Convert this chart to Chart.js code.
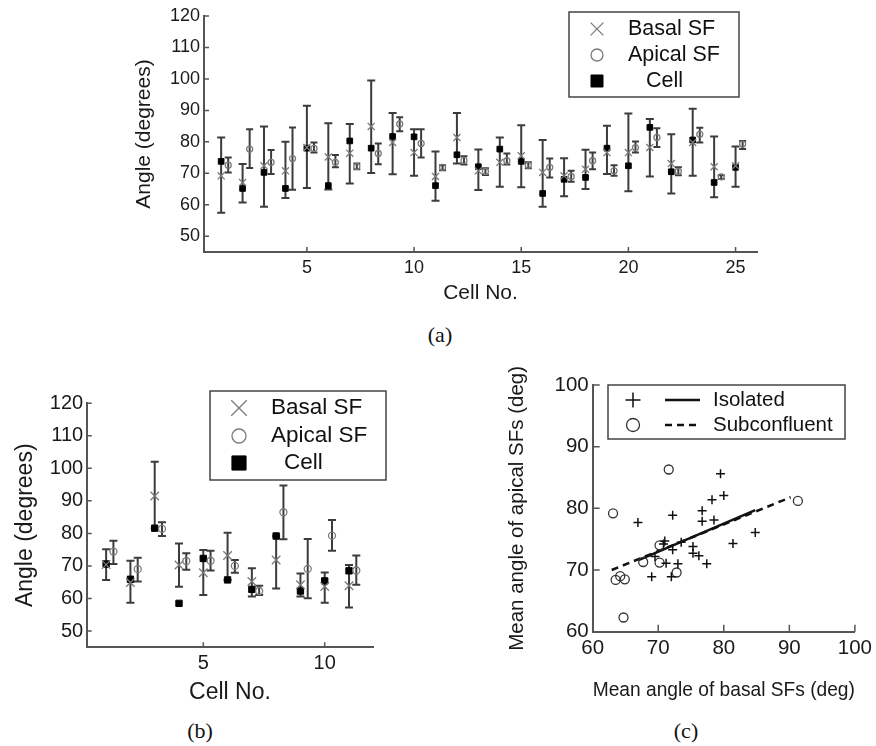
<!DOCTYPE html>
<html>
<head>
<meta charset="utf-8">
<script src="https://cdn.jsdelivr.net/npm/chart.js@4.4.1/dist/chart.umd.min.js"></script>
<style>
  body { margin: 0; background: #fff; }
  #fig { position: relative; width: 876px; height: 746px; overflow: hidden; }
  #fig canvas { position: absolute; }
  .lab { position: absolute; font-family: 'Liberation Serif', 'Times New Roman', serif; font-size: 22px; color: #111; transform: translate(-50%, -50%); }
</style>
</head>
<body>
<div id="fig">
  <canvas id="chartA" width="876" height="310" style="left:0;top:0"></canvas>
  <canvas id="chartB" width="440" height="340" style="left:0;top:370px"></canvas>
  <canvas id="chartC" width="406" height="367" style="left:470px;top:340px"></canvas>
  <div class="lab" style="left:440px;top:335px">(a)</div>
  <div class="lab" style="left:200px;top:731px">(b)</div>
  <div class="lab" style="left:686px;top:731px">(c)</div>
</div>
<script>
Chart.defaults.font.family = "'Liberation Sans', Arial, Helvetica, sans-serif";
Chart.defaults.color = '#1a1a1a';

// ---- panel (a): 25 cells
const cellsA = [1, 2, 3, 4, 5, 6, 7, 8, 9, 10, 11, 12, 13, 14, 15, 16, 17, 18, 19, 20, 21, 22, 23, 24, 25];
const basalA   = [69.2, 67.1, 72.4, 70.8, 78.2, 75.2, 76.4, 84.9, 79.8, 76.6, 69.0, 81.4, 70.8, 73.5, 75.6, 70.3, 69.2, 71.3, 76.6, 76.6, 78.2, 73.1, 79.8, 72.1, 72.4];
const basalLoA = [57.5, 60.7, 59.4, 62.2, 65.3, 64.9, 66.8, 70.1, 69.7, 69.2, 61.3, 73.1, 64.7, 65.7, 65.6, 59.4, 62.7, 65.0, 69.8, 64.3, 69.0, 63.6, 69.2, 62.4, 65.7];
const basalHiA = [81.4, 73.0, 84.9, 80.0, 91.5, 85.9, 85.7, 99.5, 89.2, 84.0, 76.9, 89.2, 77.6, 81.4, 85.3, 80.6, 74.8, 77.5, 85.1, 89.0, 87.3, 82.4, 90.5, 81.7, 78.5];
const cellA    = [73.8, 65.2, 70.3, 65.2, 78.0, 66.1, 80.3, 78.0, 81.7, 81.6, 66.1, 75.9, 72.1, 77.7, 73.8, 63.6, 68.1, 68.7, 78.0, 72.4, 84.6, 70.5, 80.6, 67.1, 71.9];
const apicalA   = [72.6, 77.7, 73.5, 74.7, 77.9, 73.5, 72.2, 76.3, 85.7, 79.5, 71.9, 74.1, 70.6, 74.0, 72.6, 71.9, 69.0, 74.0, 70.8, 78.2, 81.4, 70.6, 82.4, 68.9, 79.3];
const apicalLoA = [70.3, 71.7, 69.8, 64.8, 76.6, 71.9, 71.3, 72.9, 83.4, 75.0, 71.0, 72.8, 69.5, 72.8, 71.6, 68.7, 67.3, 71.3, 69.2, 76.6, 78.4, 69.4, 79.8, 68.2, 77.7];
const apicalHiA = [75.0, 84.0, 77.4, 84.6, 79.8, 75.8, 73.1, 79.5, 87.8, 84.0, 72.6, 75.4, 71.6, 76.3, 73.5, 74.7, 70.8, 76.6, 72.6, 80.1, 84.3, 71.9, 84.5, 69.4, 80.3];

// ---- panel (b): 11 cells
const cellsB = [1, 2, 3, 4, 5, 6, 7, 8, 9, 10, 11];
const basalB   = [70.4, 64.9, 91.5, 70.3, 67.9, 73.2, 65.2, 71.8, 64.2, 63.7, 63.9];
const basalLoB = [65.7, 58.7, 81.6, 63.6, 61.1, 65.7, 60.6, 63.1, 60.6, 58.7, 57.2];
const basalHiB = [75.1, 71.6, 102.0, 76.9, 74.9, 80.2, 69.3, 79.2, 67.7, 68.0, 70.3];
const cellB    = [70.6, 65.9, 81.6, 58.5, 72.3, 65.7, 62.8, 79.2, 62.3, 65.4, 68.5];
const apicalB   = [74.4, 69.0, 81.4, 71.5, 71.6, 70.0, 62.3, 86.5, 69.1, 79.3, 68.6];
const apicalLoB = [70.6, 65.2, 79.2, 68.8, 68.6, 67.9, 61.1, 78.2, 60.1, 74.7, 64.2];
const apicalHiB = [77.7, 72.5, 83.4, 73.9, 74.7, 71.8, 63.9, 94.7, 78.3, 84.1, 73.2];

// ---- panel (c): mean basal vs mean apical
const isoX = [66.9, 72.2, 76.7, 76.7, 78.5, 78.2, 79.5, 80.0, 81.4, 84.8, 71.0, 72.2, 73.5, 75.3, 75.3, 76.2, 77.4, 71.2, 73.0, 69.0, 72.0, 69.5, 70.8];
const isoY = [77.7, 78.9, 79.6, 77.9, 78.1, 81.4, 85.6, 82.1, 74.3, 76.1, 74.7, 73.3, 74.5, 73.8, 72.7, 72.3, 71.0, 71.1, 71.0, 68.9, 68.9, 72.2, 74.2];
const subX = [63.1, 71.6, 91.3, 63.5, 64.2, 64.9, 64.7, 67.7, 70.2, 70.2, 72.8];
const subY = [79.2, 86.3, 81.2, 68.4, 69.0, 68.5, 62.3, 71.3, 74.0, 71.2, 69.6];
const isoFitX = [67.0, 84.8];
const isoFitY = [71.6, 79.7];
const subFitX = [62.9, 90.2];
const subFitY = [70.0, 81.8];

const apicalShiftA = 0.33;
const apicalShiftB = 0.3;

function toPoints(xs, ys, shift) {
  return xs.map((x, i) => ({ x: x + shift, y: ys[i] }));
}

function errorBars(sets) {
  return {
    id: 'errorBars',
    beforeDatasetsDraw(chart) {
      const { ctx, scales: { x, y } } = chart;
      ctx.save();
      sets.forEach(s => {
        ctx.strokeStyle = s.color;
        ctx.lineWidth = s.width;
        ctx.beginPath();
        s.xs.forEach((xv, i) => {
          const px = x.getPixelForValue(xv + s.shift);
          const top = y.getPixelForValue(s.hi[i]);
          const bot = y.getPixelForValue(s.lo[i]);
          ctx.moveTo(px, top); ctx.lineTo(px, bot);
          ctx.moveTo(px - s.cap, top); ctx.lineTo(px + s.cap, top);
          ctx.moveTo(px - s.cap, bot); ctx.lineTo(px + s.cap, bot);
        });
        ctx.stroke();
      });
      ctx.restore();
    }
  };
}

function inwardTicks(len) {
  return {
    id: 'inwardTicks',
    afterDatasetsDraw(chart) {
      const { ctx, chartArea: a, scales: { x, y } } = chart;
      ctx.save();
      ctx.strokeStyle = '#555';
      ctx.lineWidth = 1.5;
      ctx.beginPath();
      x.ticks.forEach(t => {
        const p = x.getPixelForValue(t.value);
        ctx.moveTo(p, a.bottom); ctx.lineTo(p, a.bottom - len);
      });
      y.ticks.forEach(t => {
        const p = y.getPixelForValue(t.value);
        ctx.moveTo(a.left, p); ctx.lineTo(a.left + len, p);
      });
      ctx.stroke();
      ctx.restore();
    }
  };
}

function legendBox(box, rows, font) {
  return {
    id: 'legendBox',
    afterDraw(chart) {
      const ctx = chart.ctx;
      ctx.save();
      ctx.fillStyle = '#fff';
      ctx.fillRect(box.x, box.y, box.w, box.h);
      ctx.strokeStyle = '#444';
      ctx.lineWidth = 1.5;
      ctx.strokeRect(box.x, box.y, box.w, box.h);
      rows.forEach(r => {
        if (r.line) {
          ctx.strokeStyle = '#111';
          ctx.lineWidth = 2.5;
          ctx.setLineDash(r.dash || []);
          ctx.beginPath();
          ctx.moveTo(r.line[0], r.y); ctx.lineTo(r.line[1], r.y);
          ctx.stroke();
          ctx.setLineDash([]);
        }
        ctx.strokeStyle = r.color;
        ctx.fillStyle = r.fill;
        ctx.lineWidth = r.bw;
        Chart.helpers.drawPoint(ctx, { pointStyle: r.style, radius: r.r, borderWidth: r.bw, rotation: 0 }, r.mx, r.y);
        ctx.fillStyle = '#111';
        ctx.font = font;
        ctx.textBaseline = 'middle';
        ctx.textAlign = 'left';
        ctx.fillText(r.text, r.tx, r.y);
      });
      ctx.restore();
    }
  };
}

function axis(min, max, step, tickSize, tickPad, title, titleSize, fit) {
  return {
    type: 'linear', min: min, max: max,
    ticks: { stepSize: step, includeBounds: false, font: { size: tickSize }, padding: tickPad, color: '#1a1a1a' },
    grid: { drawOnChartArea: false, drawTicks: false },
    border: { color: '#555', width: 2 },
    title: { display: true, text: title, font: { size: titleSize }, color: '#1a1a1a', padding: { top: 4, bottom: 4 } },
    afterFit: fit
  };
}

const common = {
  responsive: false,
  animation: false,
  events: [],
  plugins: { legend: { display: false }, tooltip: { enabled: false } }
};

const grey = '#7a7a7a';

// ---- chart (a)
new Chart(document.getElementById('chartA'), {
  type: 'scatter',
  data: {
    datasets: [
      { label: 'Basal SF', data: toPoints(cellsA, basalA, 0), pointStyle: 'crossRot', pointRadius: 5, borderColor: grey, backgroundColor: 'rgba(0,0,0,0)', borderWidth: 1.3 },
      { label: 'Apical SF', data: toPoints(cellsA, apicalA, apicalShiftA), pointStyle: 'circle', pointRadius: 3, borderColor: grey, backgroundColor: 'rgba(0,0,0,0)', borderWidth: 1.3 },
      { label: 'Cell', data: toPoints(cellsA, cellA, 0), pointStyle: 'rect', pointRadius: 4, borderColor: '#000', backgroundColor: '#000', borderWidth: 1 }
    ]
  },
  options: Object.assign({}, common, {
    layout: { padding: { left: 128, right: 119, top: 16, bottom: 0 } },
    scales: {
      x: axis(0.2, 26, 5, 18, 5, 'Cell No.', 21, s => { s.height = 58; }),
      y: axis(45, 120, 10, 18, 4, 'Angle (degrees)', 21, s => { s.width = 76; })
    }
  }),
  plugins: [
    errorBars([
      { xs: cellsA, lo: basalLoA, hi: basalHiA, shift: 0, color: '#3c3c3c', width: 2, cap: 4 },
      { xs: cellsA, lo: apicalLoA, hi: apicalHiA, shift: apicalShiftA, color: '#3c3c3c', width: 2, cap: 3.5 }
    ]),
    inwardTicks(5),
    legendBox({ x: 569, y: 12, w: 170, h: 85 }, [
      { style: 'crossRot', r: 9, bw: 1.3, color: grey, fill: 'rgba(0,0,0,0)', mx: 597, y: 29, text: 'Basal SF', tx: 628 },
      { style: 'circle', r: 6, bw: 1.3, color: grey, fill: 'rgba(0,0,0,0)', mx: 597, y: 55, text: 'Apical SF', tx: 628 },
      { style: 'rect', r: 8.5, bw: 1, color: '#000', fill: '#000', mx: 597, y: 81, text: 'Cell', tx: 646 }
    ], "21.5px 'Liberation Sans', Arial, sans-serif")
  ]
});

// ---- chart (b)
new Chart(document.getElementById('chartB'), {
  type: 'scatter',
  data: {
    datasets: [
      { label: 'Basal SF', data: toPoints(cellsB, basalB, 0), pointStyle: 'crossRot', pointRadius: 6, borderColor: grey, backgroundColor: 'rgba(0,0,0,0)', borderWidth: 1.3 },
      { label: 'Apical SF', data: toPoints(cellsB, apicalB, apicalShiftB), pointStyle: 'circle', pointRadius: 3.5, borderColor: grey, backgroundColor: 'rgba(0,0,0,0)', borderWidth: 1.3 },
      { label: 'Cell', data: toPoints(cellsB, cellB, 0), pointStyle: 'rect', pointRadius: 4.5, borderColor: '#000', backgroundColor: '#000', borderWidth: 1 }
    ]
  },
  options: Object.assign({}, common, {
    layout: { padding: { left: 8, right: 66.7, top: 33.2, bottom: 0 } },
    scales: {
      x: axis(0.2, 12, 5, 20, 4, 'Cell No.', 23, s => { s.height = 62.7; }),
      y: axis(45, 120, 10, 20, 3.5, 'Angle (degrees)', 23, s => { s.width = 78.7; })
    }
  }),
  plugins: [
    errorBars([
      { xs: cellsB, lo: basalLoB, hi: basalHiB, shift: 0, color: '#3c3c3c', width: 2, cap: 4 },
      { xs: cellsB, lo: apicalLoB, hi: apicalHiB, shift: apicalShiftB, color: '#3c3c3c', width: 2, cap: 4 }
    ]),
    inwardTicks(5),
    legendBox({ x: 210, y: 21, w: 176, h: 89 }, [
      { style: 'crossRot', r: 11, bw: 1.3, color: grey, fill: 'rgba(0,0,0,0)', mx: 239, y: 38, text: 'Basal SF', tx: 271 },
      { style: 'circle', r: 7, bw: 1.3, color: grey, fill: 'rgba(0,0,0,0)', mx: 239, y: 66, text: 'Apical SF', tx: 271 },
      { style: 'rect', r: 10, bw: 1, color: '#000', fill: '#000', mx: 239, y: 93, text: 'Cell', tx: 284 }
    ], "22.5px 'Liberation Sans', Arial, sans-serif")
  ]
});

// ---- chart (c)
new Chart(document.getElementById('chartC'), {
  type: 'scatter',
  data: {
    datasets: [
      { label: 'Isolated', data: toPoints(isoX, isoY, 0), pointStyle: 'cross', pointRadius: 4.5, borderColor: '#111', backgroundColor: 'rgba(0,0,0,0)', borderWidth: 1.5 },
      { label: 'Subconfluent', data: toPoints(subX, subY, 0), pointStyle: 'circle', pointRadius: 4.5, borderColor: '#333', backgroundColor: 'rgba(0,0,0,0)', borderWidth: 1.3 },
      { label: 'Isolated fit', data: toPoints(isoFitX, isoFitY, 0), showLine: true, pointRadius: 0, borderColor: '#111', borderWidth: 2.5 },
      { label: 'Subconfluent fit', data: toPoints(subFitX, subFitY, 0), showLine: true, pointRadius: 0, borderColor: '#111', borderWidth: 2.5, borderDash: [7, 5] }
    ]
  },
  options: Object.assign({}, common, {
    layout: { padding: { left: 30.7, right: 20, top: 45, bottom: 0 } },
    scales: {
      x: axis(60, 100, 10, 20.5, 4, 'Mean angle of basal SFs (deg)', 20.5, s => { s.height = 75.3; }),
      y: axis(60, 100, 10, 20.5, 4, 'Mean angle of apical SFs (deg)', 20.5, s => { s.width = 92; })
    }
  }),
  plugins: [
    inwardTicks(7),
    legendBox({ x: 138, y: 45, w: 237, h: 54 }, [
      { style: 'cross', r: 7.5, bw: 1.5, color: '#111', fill: 'rgba(0,0,0,0)', mx: 163, y: 60, text: 'Isolated', tx: 243, line: [195, 230] },
      { style: 'circle', r: 6.5, bw: 1.3, color: '#333', fill: 'rgba(0,0,0,0)', mx: 163, y: 85, text: 'Subconfluent', tx: 243, line: [195, 230], dash: [7, 5] }
    ], "20.5px 'Liberation Sans', Arial, sans-serif")
  ]
});
</script>
</body>
</html>
